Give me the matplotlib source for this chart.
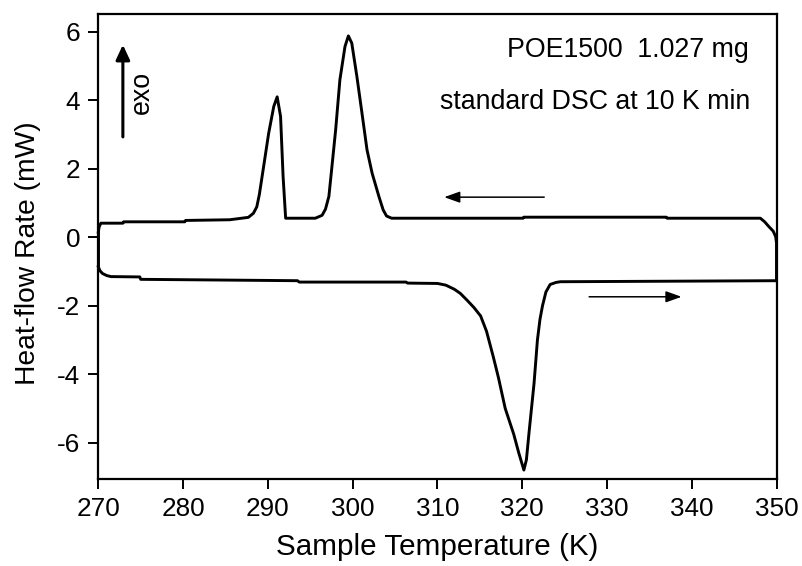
import matplotlib
matplotlib.use("Agg")
import matplotlib.pyplot as plt

plt.rcParams['font.family'] = ['Liberation Sans', 'DejaVu Sans']
plt.rcParams['axes.unicode_minus'] = False

# Heating scan (lower trace), temperature in K and heat-flow rate in mW
heat_T = [270.0, 270.2, 270.5, 271.0, 271.5, 274.9, 275.0, 293.5, 293.7, 306.3,
          306.5, 310.0, 311.0, 312.0, 312.7, 313.5, 314.3, 315.1, 315.8, 316.6,
          317.2, 318.0, 318.6, 319.0, 319.6, 320.2, 320.5, 320.8, 321.1, 321.4,
          321.8, 322.1, 322.4, 322.8, 323.3, 324.0, 324.5, 350.0]
heat_Q = [-0.86, -0.98, -1.06, -1.12, -1.15, -1.16, -1.23, -1.27, -1.31, -1.31,
          -1.34, -1.35, -1.40, -1.52, -1.64, -1.84, -2.05, -2.30, -2.75, -3.50,
          -4.10, -5.00, -5.45, -5.75, -6.30, -6.80, -6.50, -5.73, -5.00, -4.27,
          -3.00, -2.40, -2.00, -1.60, -1.38, -1.32, -1.30, -1.27]

# Cooling scan (upper trace), recorded from 350 K down to 270 K
cool_T = [350.0, 350.0, 349.9, 349.6, 349.1, 348.6, 348.1, 337.1, 337.0, 320.2,
          320.1, 304.6, 304.0, 303.6, 303.1, 302.3, 301.7, 301.1, 300.5, 299.9,
          299.5, 299.1, 298.5, 298.0, 297.6, 297.2, 296.8, 296.4, 295.6, 292.1,
          291.8, 291.5, 291.1, 290.7, 290.1, 289.5, 289.0, 288.7, 288.3, 287.7,
          285.5, 280.3, 280.2, 273.0, 272.9, 270.3, 270.1, 270.0]
cool_Q = [-1.27, -0.17, 0.02, 0.18, 0.31, 0.45, 0.555, 0.555, 0.585, 0.585,
          0.555, 0.555, 0.62, 0.80, 1.19, 1.87, 2.55, 3.63, 4.70, 5.67,
          5.88, 5.57, 4.60, 3.14, 2.16, 1.19, 0.82, 0.64, 0.555, 0.555,
          1.77, 3.53, 4.10, 3.82, 3.04, 2.06, 1.25, 0.89, 0.70, 0.58,
          0.51, 0.49, 0.45, 0.45, 0.41, 0.41, 0.30, 0.15]

x_ticks = [270, 280, 290, 300, 310, 320, 330, 340, 350]
y_ticks = [-6, -4, -2, 0, 2, 4, 6]

fig = plt.figure(figsize=(8.03, 5.66), dpi=100)
ax = fig.add_axes([0.1224, 0.1532, 0.8446, 0.8221])

ax.plot(heat_T, heat_Q, color='black', lw=2.1, solid_joinstyle='round', clip_on=False)
ax.plot(cool_T, cool_Q, color='black', lw=2.1, solid_joinstyle='round', clip_on=False)
ax.plot([270, 270], [0.15, -0.86], color='black', lw=2.1, clip_on=False)

ax.set_xlim(270, 350)
ax.set_ylim(-7.07, 6.52)
ax.set_xticks(x_ticks)
ax.set_yticks(y_ticks)
ax.tick_params(direction='out', length=7, width=1.4, labelsize=18.8, pad=6)
for sp in ax.spines.values():
    sp.set_linewidth(1.6)

ax.set_xlabel('Sample Temperature (K)', fontsize=21.3, va='center')
ax.xaxis.set_label_coords(0.5, -0.1455)
ax.set_ylabel('Heat-flow Rate (mW)', fontsize=20.3, va='center')
ax.yaxis.set_label_coords(-0.1037, 0.485)

# exotherm direction
ax.annotate('', xy=(272.9, 5.62), xytext=(272.9, 2.93),
            arrowprops=dict(arrowstyle='-|>,head_length=0.9,head_width=0.42',
                            color='black', lw=2.2, shrinkA=0, shrinkB=0))
ax.text(275.1, 4.22, 'exo', rotation=90, ha='center', va='center', fontsize=19.3)

# scan directions
ax.annotate('', xy=(310.8, 1.17), xytext=(322.6, 1.17),
            arrowprops=dict(arrowstyle='-|>,head_length=0.95,head_width=0.34',
                            color='black', lw=1.1, shrinkA=0, shrinkB=0))
ax.annotate('', xy=(338.8, -1.74), xytext=(327.9, -1.74),
            arrowprops=dict(arrowstyle='-|>,head_length=0.95,head_width=0.34',
                            color='black', lw=1.1, shrinkA=0, shrinkB=0))

ax.text(346.7, 5.48, 'POE1500  1.027 mg', ha='right', va='center', fontsize=19.3)
ax.text(346.9, 3.96, 'standard DSC at 10 K min', ha='right', va='center', fontsize=19.3)

fig.savefig('out.png', dpi=100)
